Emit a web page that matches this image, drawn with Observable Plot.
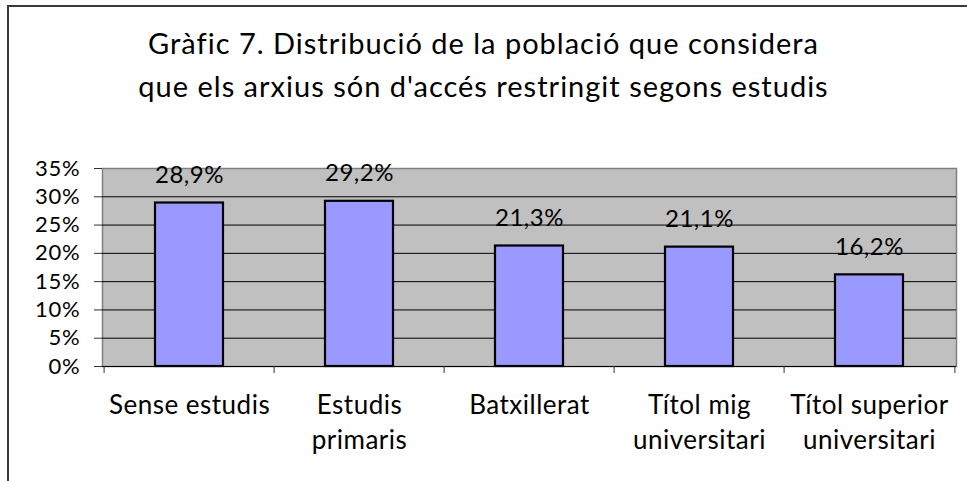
<!DOCTYPE html>
<html>
<head>
<meta charset="utf-8">
<script src="https://cdn.jsdelivr.net/npm/d3@7"></script>
<script src="https://cdn.jsdelivr.net/npm/@observablehq/plot@0.6"></script>
<style>
  html, body { margin: 0; padding: 0; background: #fff; }
  body { width: 967px; height: 481px; overflow: hidden; position: relative; font-family: Lato, "Open Sans", sans-serif; }
  #frame { position: absolute; left: 7px; top: 5px; width: 1000px; height: 500px; border-top: 2px solid #3a3a3a; border-left: 2px solid #3a3a3a; }
  #title { position: relative; height: 110px; box-sizing: border-box; padding-top: 21px; text-align: center; font-size: 29px; font-weight: 400; letter-spacing: 1px; line-height: 43px; color: #000; }
  #chart { position: relative; }
</style>
</head>
<body>
<div id="frame"></div>
<div id="title">Gràfic 7. Distribució de la població que considera<br>que els arxius són d'accés restringit segons estudis</div>
<div id="chart"></div>
<script>
const categories = ["Sense estudis", "Estudis primaris", "Batxillerat", "Títol mig universitari", "Títol superior universitari"];
const categoryLabels = ["Sense estudis", "Estudis\nprimaris", "Batxillerat", "Títol mig\nuniversitari", "Títol superior\nuniversitari"];
const values = [28.9, 29.2, 21.3, 21.1, 16.2];
const valueLabels = ["28,9%", "29,2%", "21,3%", "21,1%", "16,2%"];
const yTicks = [0, 5, 10, 15, 20, 25, 30, 35];

const data = categories.map((c, i) => ({cat: c, value: values[i], label: valueLabels[i]}));
const labelOf = new Map(categories.map((c, i) => [c, categoryLabels[i]]));

const W = 967, H = 371, ML = 102, MR = 11, MT = 58, MB = 115;
const step = (W - ML - MR) / categories.length;

const plot = Plot.plot({
  width: W,
  height: H,
  marginLeft: ML,
  marginRight: MR,
  marginTop: MT,
  marginBottom: MB,
  style: {fontFamily: "Lato, 'Open Sans', sans-serif", fontWeight: 400, color: "#000", background: "transparent"},
  x: {domain: categories, paddingInner: 0.6, paddingOuter: 0.3, label: null},
  y: {domain: [0, 35], label: null},
  marks: [
    Plot.frame({fill: "#c0c0c0", stroke: "#808080", strokeWidth: 1.5}),
    Plot.ruleY(yTicks.filter(t => t > 0 && t < 35), {stroke: "#000", strokeWidth: 1}),
    Plot.barY(data, {x: "cat", y: "value", fill: "#9999ff", stroke: "#000", strokeWidth: 2.2}),
    Plot.ruleY([0], {stroke: "#000", strokeWidth: 1.2, insetLeft: -8}),
    Plot.axisY({ticks: yTicks, tickFormat: d => d + "%", tickSize: 8, tickPadding: 14, stroke: "#333", fontSize: 22, label: null}),
    Plot.ruleX(categories, {x: d => d, dx: -step / 2, y1: 0, y2: 0, insetBottom: -7, stroke: "#333"}),
    Plot.ruleX(categories.slice(-1), {x: d => d, dx: step / 2, y1: 0, y2: 0, insetBottom: -7, stroke: "#333"}),
    Plot.axisX({tickSize: 0, tickPadding: 23, tickFormat: d => labelOf.get(d), fontSize: 26, lineHeight: 1.33, label: null}),
    Plot.text(data, {x: "cat", y: "value", text: "label", lineAnchor: "bottom", dy: -20, fontSize: 24, fill: "#000"})
  ]
});
d3.select(plot).selectAll('[aria-label="y-axis tick label"] text').style("letter-spacing", "0.8px");
d3.select(plot).selectAll('[aria-label="x-axis tick label"] text').style("letter-spacing", "0.5px");
d3.select(plot).selectAll('[aria-label="text"] text').style("letter-spacing", "0.5px");
document.getElementById("chart").appendChild(plot);
</script>
</body>
</html>
